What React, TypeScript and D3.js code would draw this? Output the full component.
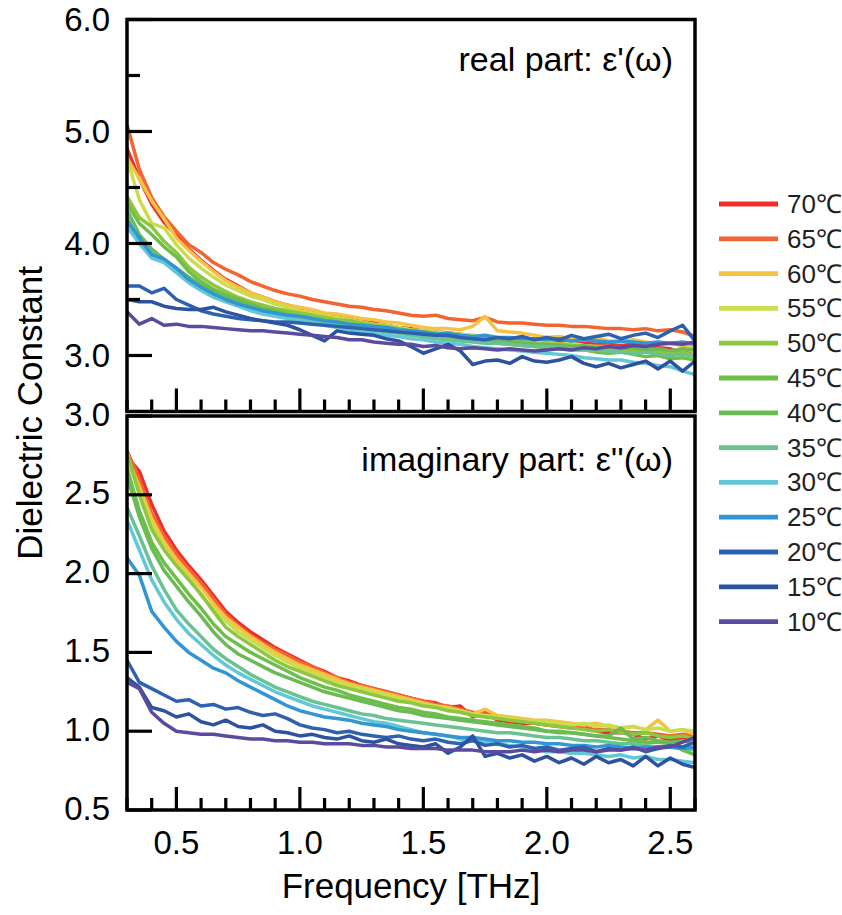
import React from 'react';
import * as d3 from 'd3';

// frequency grid [THz]
const freq = [
  0.30, 0.35, 0.40, 0.45, 0.50, 0.55, 0.60, 0.65, 0.70, 0.75,
  0.80, 0.85, 0.90, 0.95, 1.00, 1.05, 1.10, 1.15, 1.20, 1.25,
  1.30, 1.35, 1.40, 1.45, 1.50, 1.55, 1.60, 1.65, 1.70, 1.75,
  1.80, 1.85, 1.90, 1.95, 2.00, 2.05, 2.10, 2.15, 2.20, 2.25,
  2.30, 2.35, 2.40, 2.45, 2.50, 2.55, 2.60,
];

const labels = ['70℃', '65℃', '60℃', '55℃', '50℃', '45℃', '40℃', '35℃', '30℃', '25℃', '20℃', '15℃', '10℃'];
const colors = ['#ed2e2e', '#f26532', '#f6c244', '#cbdc4c', '#8dc63f', '#6dbf47', '#6aba55', '#68c292', '#62c8d5', '#3396d3', '#2e62b0', '#2d52a0', '#5b4b9f'];

// real part eps'
const real70 = [4.85, 4.58, 4.35, 4.19, 4.07, 3.95, 3.85, 3.76, 3.68, 3.62, 3.56, 3.52, 3.48, 3.45, 3.42, 3.39, 3.36, 3.34, 3.33, 3.31, 3.29, 3.27, 3.25, 3.24, 3.22, 3.21, 3.20, 3.19, 3.17, 3.17, 3.15, 3.15, 3.14, 3.13, 3.12, 3.12, 3.11, 3.11, 3.10, 3.10, 3.09, 3.10, 3.08, 3.07, 3.06, 3.02, 3.05];
const real65 = [5.06, 4.66, 4.41, 4.24, 4.11, 3.99, 3.92, 3.83, 3.77, 3.72, 3.66, 3.62, 3.58, 3.55, 3.53, 3.50, 3.48, 3.46, 3.44, 3.43, 3.41, 3.40, 3.38, 3.36, 3.35, 3.36, 3.33, 3.32, 3.31, 3.34, 3.30, 3.29, 3.29, 3.28, 3.27, 3.27, 3.26, 3.26, 3.25, 3.24, 3.24, 3.23, 3.24, 3.22, 3.23, 3.21, 3.17];
const real60 = [4.76, 4.58, 4.38, 4.22, 4.05, 3.94, 3.84, 3.75, 3.67, 3.61, 3.56, 3.52, 3.48, 3.45, 3.43, 3.41, 3.38, 3.37, 3.35, 3.33, 3.32, 3.30, 3.29, 3.27, 3.25, 3.24, 3.24, 3.23, 3.26, 3.35, 3.22, 3.21, 3.20, 3.18, 3.16, 3.17, 3.15, 3.14, 3.16, 3.13, 3.12, 3.14, 3.12, 3.10, 3.11, 3.09, 3.08];
const real55 = [4.76, 4.39, 4.18, 4.14, 3.99, 3.87, 3.78, 3.70, 3.63, 3.58, 3.53, 3.50, 3.46, 3.43, 3.40, 3.38, 3.35, 3.34, 3.32, 3.30, 3.28, 3.27, 3.25, 3.23, 3.22, 3.21, 3.20, 3.19, 3.18, 3.17, 3.15, 3.14, 3.14, 3.13, 3.12, 3.10, 3.11, 3.09, 3.08, 3.08, 3.07, 3.06, 3.06, 3.05, 3.04, 3.06, 3.04];
const real50 = [4.42, 4.23, 4.15, 4.02, 3.92, 3.79, 3.70, 3.63, 3.57, 3.52, 3.48, 3.45, 3.42, 3.40, 3.38, 3.36, 3.34, 3.32, 3.31, 3.29, 3.27, 3.26, 3.24, 3.22, 3.21, 3.20, 3.18, 3.17, 3.16, 3.15, 3.14, 3.13, 3.12, 3.11, 3.10, 3.10, 3.09, 3.07, 3.08, 3.06, 3.05, 3.04, 3.05, 3.03, 3.01, 3.03, 3.00];
const real45 = [4.36, 4.18, 4.08, 3.97, 3.88, 3.75, 3.66, 3.59, 3.54, 3.50, 3.46, 3.42, 3.40, 3.37, 3.35, 3.33, 3.31, 3.29, 3.28, 3.26, 3.24, 3.23, 3.21, 3.20, 3.18, 3.17, 3.16, 3.14, 3.13, 3.12, 3.11, 3.10, 3.09, 3.08, 3.07, 3.06, 3.05, 3.05, 3.03, 3.02, 3.03, 3.01, 2.99, 3.00, 2.97, 2.98, 2.96];
const real40 = [4.30, 4.08, 3.95, 3.86, 3.78, 3.70, 3.63, 3.57, 3.52, 3.48, 3.44, 3.41, 3.38, 3.36, 3.34, 3.32, 3.30, 3.28, 3.27, 3.25, 3.24, 3.22, 3.21, 3.19, 3.18, 3.17, 3.16, 3.15, 3.14, 3.13, 3.12, 3.12, 3.11, 3.10, 3.10, 3.09, 3.08, 3.09, 3.07, 3.08, 3.06, 3.07, 3.05, 3.06, 3.04, 3.06, 3.05];
const real35 = [4.25, 4.04, 3.92, 3.85, 3.77, 3.68, 3.61, 3.55, 3.50, 3.46, 3.42, 3.39, 3.37, 3.35, 3.33, 3.31, 3.29, 3.27, 3.26, 3.24, 3.23, 3.21, 3.20, 3.18, 3.17, 3.15, 3.14, 3.13, 3.12, 3.11, 3.11, 3.10, 3.09, 3.08, 3.08, 3.07, 3.06, 3.05, 3.05, 3.04, 3.03, 3.02, 3.03, 3.01, 3.00, 3.01, 2.99];
const real30 = [4.15, 4.00, 3.87, 3.83, 3.74, 3.65, 3.58, 3.52, 3.48, 3.44, 3.40, 3.37, 3.35, 3.33, 3.31, 3.29, 3.27, 3.25, 3.23, 3.21, 3.20, 3.18, 3.17, 3.15, 3.14, 3.12, 3.11, 3.10, 3.08, 3.07, 3.06, 3.05, 3.04, 3.03, 3.02, 3.01, 3.00, 2.98, 2.97, 2.96, 2.96, 2.94, 2.93, 2.91, 2.90, 2.86, 2.83];
const real25 = [4.20, 4.05, 3.90, 3.86, 3.78, 3.68, 3.61, 3.55, 3.50, 3.46, 3.43, 3.40, 3.38, 3.36, 3.35, 3.33, 3.31, 3.30, 3.28, 3.27, 3.26, 3.25, 3.23, 3.22, 3.21, 3.19, 3.20, 3.18, 3.17, 3.18, 3.16, 3.16, 3.15, 3.15, 3.14, 3.15, 3.13, 3.14, 3.13, 3.12, 3.13, 3.12, 3.11, 3.12, 3.11, 3.12, 3.10];
const real20 = [3.62, 3.62, 3.56, 3.60, 3.50, 3.45, 3.40, 3.37, 3.35, 3.33, 3.32, 3.31, 3.30, 3.30, 3.29, 3.28, 3.27, 3.26, 3.25, 3.24, 3.23, 3.22, 3.21, 3.20, 3.19, 3.18, 3.18, 3.16, 3.15, 3.14, 3.16, 3.15, 3.17, 3.14, 3.16, 3.14, 3.18, 3.15, 3.17, 3.19, 3.15, 3.18, 3.20, 3.16, 3.22, 3.27, 3.13];
const real15 = [3.50, 3.48, 3.48, 3.44, 3.42, 3.41, 3.41, 3.43, 3.39, 3.36, 3.33, 3.31, 3.29, 3.27, 3.23, 3.18, 3.13, 3.22, 3.20, 3.19, 3.18, 3.15, 3.13, 3.08, 3.02, 3.06, 3.10, 3.04, 2.92, 2.95, 2.96, 2.93, 2.99, 2.95, 2.94, 2.96, 2.99, 2.93, 2.90, 2.93, 2.89, 2.92, 2.95, 2.88, 2.95, 2.86, 2.95];
const real10 = [3.39, 3.28, 3.33, 3.27, 3.28, 3.26, 3.26, 3.25, 3.24, 3.23, 3.22, 3.22, 3.21, 3.20, 3.19, 3.18, 3.17, 3.16, 3.14, 3.14, 3.12, 3.11, 3.10, 3.10, 3.08, 3.09, 3.07, 3.06, 3.07, 3.06, 3.05, 3.06, 3.05, 3.04, 3.05, 3.06, 3.05, 3.07, 3.06, 3.08, 3.07, 3.09, 3.08, 3.10, 3.11, 3.10, 3.12];

// imaginary part eps''
const imag70 = [2.74, 2.65, 2.44, 2.27, 2.15, 2.05, 1.96, 1.86, 1.76, 1.69, 1.63, 1.58, 1.53, 1.49, 1.45, 1.41, 1.38, 1.34, 1.32, 1.29, 1.27, 1.25, 1.23, 1.21, 1.19, 1.18, 1.15, 1.16, 1.09, 1.12, 1.07, 1.06, 1.05, 1.05, 1.04, 1.03, 1.02, 1.03, 1.00, 0.99, 0.99, 0.98, 0.95, 0.97, 0.94, 0.96, 0.95];
const imag65 = [2.78, 2.60, 2.38, 2.24, 2.12, 2.03, 1.94, 1.84, 1.74, 1.67, 1.61, 1.56, 1.52, 1.48, 1.44, 1.41, 1.37, 1.34, 1.31, 1.29, 1.27, 1.25, 1.23, 1.21, 1.19, 1.17, 1.16, 1.14, 1.12, 1.11, 1.09, 1.08, 1.07, 1.06, 1.05, 1.04, 1.03, 1.02, 1.01, 1.01, 1.00, 0.99, 0.99, 0.98, 0.97, 0.98, 0.97];
const imag60 = [2.74, 2.55, 2.35, 2.20, 2.09, 2.00, 1.91, 1.81, 1.72, 1.66, 1.60, 1.55, 1.50, 1.46, 1.42, 1.39, 1.36, 1.33, 1.30, 1.28, 1.26, 1.24, 1.22, 1.20, 1.18, 1.16, 1.15, 1.13, 1.11, 1.14, 1.10, 1.09, 1.08, 1.07, 1.07, 1.06, 1.05, 1.04, 1.05, 1.03, 1.02, 1.03, 1.01, 1.07, 1.00, 1.01, 0.98];
const imag55 = [2.73, 2.52, 2.32, 2.17, 2.06, 1.98, 1.86, 1.78, 1.70, 1.63, 1.58, 1.53, 1.48, 1.44, 1.40, 1.37, 1.34, 1.31, 1.29, 1.27, 1.25, 1.23, 1.21, 1.19, 1.17, 1.16, 1.14, 1.13, 1.11, 1.10, 1.09, 1.08, 1.07, 1.06, 1.06, 1.05, 1.04, 1.05, 1.03, 1.04, 1.02, 1.03, 1.01, 1.02, 1.00, 1.01, 1.00];
const imag50 = [2.77, 2.50, 2.28, 2.15, 2.05, 1.96, 1.87, 1.76, 1.66, 1.60, 1.55, 1.50, 1.45, 1.41, 1.38, 1.35, 1.32, 1.29, 1.27, 1.25, 1.23, 1.21, 1.19, 1.18, 1.16, 1.15, 1.13, 1.12, 1.10, 1.09, 1.08, 1.07, 1.06, 1.05, 1.04, 1.03, 1.02, 1.01, 1.00, 1.01, 0.99, 0.98, 0.99, 0.97, 0.96, 0.97, 0.95];
const imag45 = [2.67, 2.40, 2.20, 2.07, 1.97, 1.87, 1.78, 1.68, 1.60, 1.55, 1.50, 1.46, 1.42, 1.38, 1.34, 1.31, 1.28, 1.26, 1.23, 1.21, 1.19, 1.17, 1.15, 1.14, 1.12, 1.11, 1.09, 1.08, 1.07, 1.06, 1.05, 1.04, 1.03, 1.02, 1.00, 1.00, 0.99, 0.98, 0.97, 0.96, 0.95, 0.94, 0.93, 0.93, 0.92, 0.88, 0.85];
const imag40 = [2.62, 2.36, 2.16, 2.02, 1.92, 1.82, 1.73, 1.63, 1.55, 1.49, 1.45, 1.41, 1.37, 1.34, 1.31, 1.28, 1.25, 1.23, 1.21, 1.19, 1.17, 1.15, 1.13, 1.12, 1.10, 1.09, 1.08, 1.07, 1.06, 1.05, 1.04, 1.03, 1.02, 1.01, 1.00, 0.99, 0.99, 0.98, 0.97, 0.97, 1.02, 0.95, 0.96, 0.94, 0.93, 0.94, 0.92];
const imag35 = [2.42, 2.24, 2.05, 1.90, 1.77, 1.68, 1.60, 1.52, 1.46, 1.41, 1.36, 1.32, 1.28, 1.25, 1.22, 1.19, 1.17, 1.15, 1.13, 1.11, 1.10, 1.08, 1.07, 1.06, 1.05, 1.04, 1.03, 1.02, 1.01, 1.00, 0.99, 0.99, 0.98, 0.97, 0.96, 0.96, 0.95, 0.94, 0.94, 0.93, 0.92, 0.92, 0.91, 0.90, 0.90, 0.89, 0.88];
const imag30 = [2.34, 2.15, 1.96, 1.82, 1.71, 1.62, 1.55, 1.48, 1.42, 1.37, 1.33, 1.29, 1.25, 1.22, 1.19, 1.16, 1.14, 1.12, 1.10, 1.08, 1.06, 1.05, 1.03, 1.01, 0.99, 0.98, 0.97, 0.95, 0.94, 0.93, 0.92, 0.91, 0.90, 0.89, 0.87, 0.87, 0.86, 0.86, 0.85, 0.84, 0.85, 0.83, 0.84, 0.82, 0.82, 0.81, 0.80];
const imag25 = [2.10, 1.99, 1.76, 1.66, 1.57, 1.50, 1.45, 1.40, 1.37, 1.32, 1.28, 1.24, 1.20, 1.16, 1.13, 1.11, 1.09, 1.08, 1.07, 1.05, 1.04, 1.03, 1.01, 1.00, 0.99, 0.98, 0.97, 0.96, 0.96, 0.95, 0.94, 0.94, 0.93, 0.93, 0.92, 0.92, 0.91, 0.91, 0.90, 0.91, 0.90, 0.89, 0.90, 0.89, 0.90, 0.89, 0.90];
const imag20 = [1.45, 1.31, 1.27, 1.23, 1.19, 1.20, 1.16, 1.17, 1.14, 1.15, 1.12, 1.10, 1.11, 1.08, 1.04, 1.02, 1.01, 0.99, 1.00, 0.98, 0.97, 0.96, 0.97, 0.95, 0.94, 0.95, 0.93, 0.92, 0.94, 0.91, 0.92, 0.90, 0.91, 0.89, 0.90, 0.88, 0.89, 0.90, 0.87, 0.89, 0.88, 0.90, 0.87, 0.89, 0.91, 0.90, 0.93];
const imag15 = [1.34, 1.28, 1.15, 1.13, 1.09, 1.11, 1.06, 1.04, 1.07, 1.03, 1.02, 1.04, 1.00, 0.99, 0.97, 0.98, 0.96, 0.95, 0.97, 0.94, 0.93, 0.95, 0.92, 0.91, 0.90, 0.92, 0.86, 0.90, 0.97, 0.84, 0.86, 0.83, 0.85, 0.81, 0.84, 0.80, 0.83, 0.79, 0.84, 0.80, 0.82, 0.78, 0.84, 0.78, 0.83, 0.79, 0.77];
const imag10 = [1.31, 1.27, 1.12, 1.05, 1.00, 0.99, 0.98, 0.98, 0.97, 0.96, 0.95, 0.95, 0.94, 0.94, 0.93, 0.93, 0.92, 0.92, 0.92, 0.91, 0.91, 0.90, 0.90, 0.89, 0.89, 0.89, 0.88, 0.88, 0.88, 0.87, 0.87, 0.87, 0.88, 0.87, 0.88, 0.87, 0.88, 0.88, 0.87, 0.88, 0.88, 0.89, 0.88, 0.90, 0.90, 0.93, 0.96];

const realSeries = [real70, real65, real60, real55, real50, real45, real40, real35, real30, real25, real20, real15, real10];
const imagSeries = [imag70, imag65, imag60, imag55, imag50, imag45, imag40, imag35, imag30, imag25, imag20, imag15, imag10];

const xTicks = [0.5, 1.0, 1.5, 2.0, 2.5];
const topYTicks = [3.0, 4.0, 5.0, 6.0];
const botYTicks = [0.5, 1.0, 1.5, 2.0, 2.5, 3.0];

const FONT = '"Liberation Sans", Arial, Helvetica, sans-serif';
const left = 127, right = 695;

const x = d3.scaleLinear().domain([0.3, 2.6]).range([left, right]);
const yTop = d3.scaleLinear().domain([2.5, 6.0]).range([411.5, 19.5]);
const yBot = d3.scaleLinear().domain([0.5, 3.0]).range([810, 416]);

const minorX = d3.range(3, 27).map(i => i / 10);

function Panel({ id, y, series, yMinor, yMajorLen, title, titleY }) {
  const [y0, y1] = y.range();
  const line = d3.line().x((d, i) => x(freq[i])).y(d => y(d));
  return (
    <g>
      <clipPath id={id}>
        <rect x={left} y={y1} width={right - left} height={y0 - y1} />
      </clipPath>
      <g clipPath={`url(#${id})`}>
        {series.map((s, i) => (
          <path key={i} d={line(s)} fill="none" stroke={colors[i]} strokeWidth={3.5} strokeLinejoin="round" />
        ))}
      </g>
      {/* x ticks pointing up */}
      {minorX.map(v => {
        const major = Math.abs(v * 2 - Math.round(v * 2)) < 1e-6;
        return <line key={v} x1={x(v)} x2={x(v)} y1={y0} y2={y0 - (major ? 23 : 12)} stroke="#000" strokeWidth={3.2} />;
      })}
      {/* y ticks pointing right */}
      {yMinor.map(v => (
        <line key={v} x1={left} x2={left + yMajorLen(v)} y1={y(v)} y2={y(v)} stroke="#000" strokeWidth={3.2} />
      ))}
      <rect x={left} y={y1} width={right - left} height={y0 - y1} fill="none" stroke="#000" strokeWidth={3.5} />
      <text x={673} y={titleY} textAnchor="end" fontSize={34} fontFamily={FONT}>{title}</text>
    </g>
  );
}

export default function App() {
  return (
    <svg width={842} height={915} style={{ position: 'absolute', left: 0, top: 0, background: '#fff' }}>
      <Panel id="clipTop" y={yTop} series={realSeries}
        yMinor={d3.range(6, 13).map(i => i / 2)}
        yMajorLen={v => (Number.isInteger(v) ? 25 : 13)}
        title="real part: ε'(ω)" titleY={71} />
      <Panel id="clipBot" y={yBot} series={imagSeries}
        yMinor={botYTicks}
        yMajorLen={() => 25}
        title="imaginary part: ε''(ω)" titleY={471} />

      {topYTicks.map(v => (
        <text key={'t' + v} x={110} y={yTop(v)} textAnchor="end" dominantBaseline="central" fontSize={33} fontFamily={FONT}>{v.toFixed(1)}</text>
      ))}
      {botYTicks.map(v => (
        <text key={'b' + v} x={110} y={yBot(v) - 2} textAnchor="end" dominantBaseline="central" fontSize={33} fontFamily={FONT}>{v.toFixed(1)}</text>
      ))}
      {xTicks.map(v => (
        <text key={'x' + v} x={x(v)} y={854} textAnchor="middle" fontSize={33} fontFamily={FONT}>{v.toFixed(1)}</text>
      ))}

      <text x={411} y={898} textAnchor="middle" fontSize={35} fontFamily={FONT}>Frequency [THz]</text>
      <text transform="translate(42,413) rotate(-90)" textAnchor="middle" fontSize={35} fontFamily={FONT}>Dielectric Constant</text>

      {labels.map((l, i) => {
        const ly = 204 + i * 34.8;
        return (
          <g key={l}>
            <line x1={719} x2={778} y1={ly} y2={ly} stroke={colors[i]} strokeWidth={4.8} />
            <text x={787} y={ly} dominantBaseline="central" fontSize={26} fontFamily={FONT} fill="#231f20">{l}</text>
          </g>
        );
      })}
    </svg>
  );
}
